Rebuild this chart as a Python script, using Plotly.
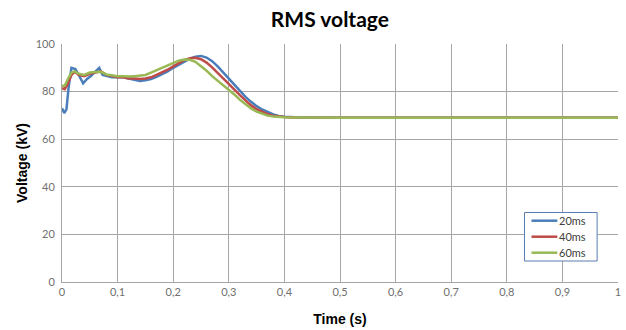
import plotly.graph_objects as go

# Time samples (s)
t_start_blue = [0, 0.004, 0.008, 0.012, 0.017, 0.024, 0.03, 0.038, 0.045, 0.052, 0.058, 0.067, 0.073, 0.08, 0.09]
v_start_blue = [73, 71, 72.5, 82, 90, 89.5, 87, 83.5, 85.3, 86.5, 88, 90, 87, 86.5, 86]

t_start_red = [0, 0.005, 0.01, 0.017, 0.023, 0.03, 0.04, 0.05, 0.06, 0.07, 0.08, 0.09]
v_start_red = [81.5, 81, 83, 87, 88.3, 87, 86.5, 87.5, 88, 88.5, 87, 86.5]

t_start_green = [0, 0.005, 0.01, 0.017, 0.023, 0.03, 0.04, 0.05, 0.06, 0.07, 0.08, 0.09]
v_start_green = [82.5, 82.5, 85, 88, 88.5, 87.5, 87, 88, 88.2, 88.3, 87.2, 86.8]

t_mid = [0.10, 0.11, 0.12, 0.13, 0.14, 0.15, 0.16, 0.17, 0.18, 0.19, 0.20,
         0.21, 0.22, 0.23, 0.24, 0.25, 0.26, 0.27, 0.28, 0.29, 0.30,
         0.31, 0.32, 0.33, 0.34, 0.35, 0.36, 0.37, 0.38, 0.39, 0.40,
         0.42, 0.45, 0.5, 0.6, 0.7, 0.8, 0.9, 1.0]

v_mid_blue = [86, 86, 85.5, 85, 84.5, 84.8, 85.3, 86.2, 87.3, 88.5, 90,
              91.3, 92.6, 93.8, 94.7, 95, 94.3, 92.8, 90.6, 88, 85.3,
              82.6, 80, 77.8, 75.7, 73.9, 72.5, 71.3, 70.4, 69.8, 69.4,
              69.2, 69.1, 69.0, 69.0, 69.0, 69.0, 69.0, 69.0]
v_mid_red = [86, 86, 85.5, 85.5, 85.3, 85.5, 86, 87, 88, 89.2, 90.6,
             92, 93.2, 94, 94.2, 93.6, 92.2, 90.2, 87.8, 85.5, 83.2,
             80.8, 78.5, 76.3, 74.2, 72.6, 71.4, 70.5, 69.9, 69.5, 69.3,
             69.1, 69.0, 69.0, 69.0, 69.0, 69.0, 69.0, 69.0]
v_mid_green = [86.5, 86.5, 86.3, 86.5, 86.6, 87, 88, 89, 90, 91.2, 92.2,
               93, 93.5, 93.4, 92.5, 90.8, 88.8, 86.5, 84.6, 83, 81,
               78.8, 76.6, 74.8, 72.9, 71.6, 70.6, 69.9, 69.5, 69.3, 69.2,
               69.1, 69.0, 69.0, 69.0, 69.0, 69.0, 69.0, 69.0]

series_names = ["20ms", "40ms", "60ms"]
colors = ["#4A7EBB", "#BE4B48", "#98B954"]

x_ticks = [0, 0.1, 0.2, 0.3, 0.4, 0.5, 0.6, 0.7, 0.8, 0.9, 1]
x_tick_labels = ["0", "0,1", "0,2", "0,3", "0,4", "0,5", "0,6", "0,7", "0,8", "0,9", "1"]
y_ticks = [0, 20, 40, 60, 80, 100]

xs = [t_start_blue + t_mid, t_start_red + t_mid, t_start_green + t_mid]
ys = [v_start_blue + v_mid_blue, v_start_red + v_mid_red, v_start_green + v_mid_green]

fig = go.Figure()
for name, c, x, y in zip(series_names, colors, xs, ys):
    fig.add_trace(go.Scatter(x=x, y=y, mode="lines", name=name,
                             line=dict(color=c, width=2.5)))

# Custom compact legend (Excel-style), positioned in paper coordinates
L, R, T, B = 62, 5, 44, 48
W, H = 626, 330
pw, ph = W - L - R, H - T - B
def px(xp):
    return (xp - L) / pw
def py(yp):
    return (H - B - yp) / ph

fig.add_shape(type="rect", xref="paper", yref="paper",
              x0=px(527), x1=px(600), y0=py(212.5), y1=py(261),
              line=dict(color="#5B7DB1", width=1), fillcolor="white", layer="above")
rows = [220.7, 236.7, 252.7]
for name, c, ry in zip(series_names, colors, rows):
    fig.add_shape(type="line", xref="paper", yref="paper",
                  x0=px(534), x1=px(560), y0=py(ry), y1=py(ry),
                  line=dict(color=c, width=2.5), layer="above")
    fig.add_annotation(xref="paper", yref="paper", x=px(560), y=py(ry),
                       xanchor="left", yanchor="middle", text=name, showarrow=False,
                       font=dict(family="Lato", size=11, color="#404040"))

grid = "#A6A6A6"
fig.update_layout(
    width=W, height=H,
    margin=dict(l=L, r=R, t=T, b=B),
    paper_bgcolor="white", plot_bgcolor="white",
    showlegend=False,
    title=dict(text="<b>RMS voltage</b>", x=0.527, xanchor="center", y=0.94, yanchor="middle",
               font=dict(family="Lato", size=21, color="black")),
    xaxis=dict(range=[0, 1], tickvals=x_ticks, ticktext=x_tick_labels,
               showgrid=True, gridcolor=grid, gridwidth=1,
               showline=True, linecolor=grid, linewidth=1,
               tickfont=dict(family="Lato", size=11, color="#707070"),
               ticks="", zeroline=False,
               title=dict(text="<b>Time (s)</b>", standoff=16,
                          font=dict(family="Liberation Sans", size=14, color="black"))),
    yaxis=dict(range=[0, 100], tickvals=y_ticks,
               showgrid=True, gridcolor=grid, gridwidth=1,
               showline=True, linecolor=grid, linewidth=1, mirror=False,
               tickfont=dict(family="Lato", size=11, color="#707070"),
               ticks="outside", ticklen=4, tickcolor="white", zeroline=False,
               title=dict(text="<b>Voltage (kV)</b>", standoff=4,
                          font=dict(family="Liberation Sans", size=14, color="black"))),
)

fig.write_html("out.html")
